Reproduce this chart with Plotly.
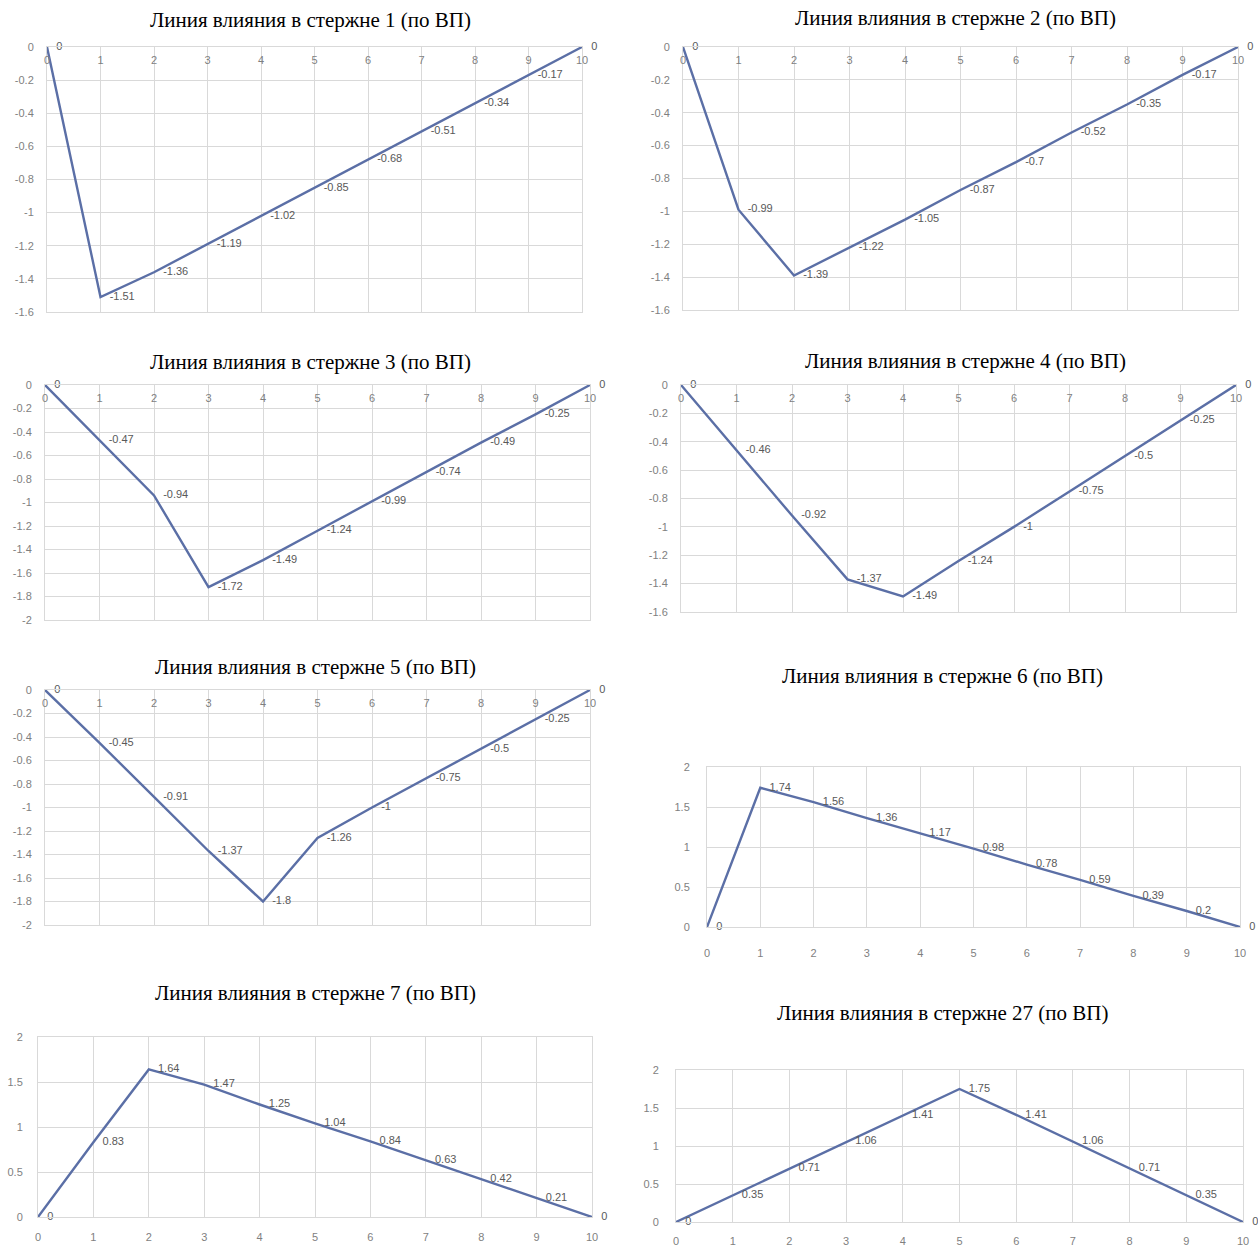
import plotly.graph_objects as go

W, H = 1258, 1247

x_nodes = [0, 1, 2, 3, 4, 5, 6, 7, 8, 9, 10]
x_ticks = [0, 1, 2, 3, 4, 5, 6, 7, 8, 9, 10]

titles = [
    "Линия влияния в стержне 1 (по ВП)",
    "Линия влияния в стержне 2 (по ВП)",
    "Линия влияния в стержне 3 (по ВП)",
    "Линия влияния в стержне 4 (по ВП)",
    "Линия влияния в стержне 5 (по ВП)",
    "Линия влияния в стержне 6 (по ВП)",
    "Линия влияния в стержне 7 (по ВП)",
    "Линия влияния в стержне 27 (по ВП)",
]

rod1 = [0, -1.51, -1.36, -1.19, -1.02, -0.85, -0.68, -0.51, -0.34, -0.17, 0]
rod2 = [0, -0.99, -1.39, -1.22, -1.05, -0.87, -0.7, -0.52, -0.35, -0.17, 0]
rod3 = [0, -0.47, -0.94, -1.72, -1.49, -1.24, -0.99, -0.74, -0.49, -0.25, 0]
rod4 = [0, -0.46, -0.92, -1.37, -1.49, -1.24, -1, -0.75, -0.5, -0.25, 0]
rod5 = [0, -0.45, -0.91, -1.37, -1.8, -1.26, -1, -0.75, -0.5, -0.25, 0]
rod6 = [0, 1.74, 1.56, 1.36, 1.17, 0.98, 0.78, 0.59, 0.39, 0.2, 0]
rod7 = [0, 0.83, 1.64, 1.47, 1.25, 1.04, 0.84, 0.63, 0.42, 0.21, 0]
rod27 = [0, 0.35, 0.71, 1.06, 1.41, 1.75, 1.41, 1.06, 0.71, 0.35, 0]

series = [rod1, rod2, rod3, rod4, rod5, rod6, rod7, rod27]

y_ticks_16 = [0, -0.2, -0.4, -0.6, -0.8, -1, -1.2, -1.4, -1.6]
y_ticks_20 = [0, -0.2, -0.4, -0.6, -0.8, -1, -1.2, -1.4, -1.6, -1.8, -2]
y_ticks_pos = [0, 0.5, 1, 1.5, 2]
y_tick_sets = [y_ticks_16, y_ticks_16, y_ticks_20, y_ticks_16, y_ticks_20,
               y_ticks_pos, y_ticks_pos, y_ticks_pos]

# plot-area boxes in pixels: x0, x1, ytop, ybottom
boxes = [
    (47, 582, 47, 312),
    (683, 1238, 47, 310),
    (45, 590, 385, 620),
    (681, 1236, 385, 612),
    (45, 590, 690, 925),
    (707, 1240, 767, 927),
    (38, 592, 1037, 1217),
    (676, 1243, 1070, 1222),
]
title_pos = [(310, 20), (955, 18), (310, 362), (966, 361),
             (316, 667), (942, 676), (316, 993), (942, 1013)]
x_label_gap = [0, 0, 0, 0, 0, 16, 10, 9]
y_label_gap = [10, 10, 10, 10, 10, 14, 12, 14]

LINE = "#5b6fa6"
GRID = "#d9d9d9"
TICK = "#7f7f7f"
LBL = "#595959"
FONT = "Liberation Sans"
PAD = "\u00a0\u00a0\u00a0"


def fmt(v):
    return f"{v:g}"


fig = go.Figure()
annotations = []

for i, ys in enumerate(series):
    k = "" if i == 0 else str(i + 1)
    fig.add_trace(go.Scatter(
        x=x_nodes, y=ys, mode="lines+text",
        text=[PAD + fmt(v) for v in ys], textposition="middle right",
        textfont=dict(family=FONT, size=11, color=LBL),
        line=dict(color=LINE, width=2.4),
        cliponaxis=False, showlegend=False, hoverinfo="x+y",
        xaxis="x" + k, yaxis="y" + k,
    ))
    x0, x1, yt, yb = boxes[i]
    yvals = y_tick_sets[i]
    negative = min(yvals) < 0
    yr = [min(yvals), max(yvals)]
    xa = dict(
        domain=[x0 / W, x1 / W], range=[0, 10], anchor="y" + k,
        tickvals=x_ticks, ticktext=[str(t) for t in x_ticks],
        showgrid=True, gridcolor=GRID, gridwidth=1,
        showline=True, linecolor=GRID, mirror=True, zeroline=False,
        tickfont=dict(family=FONT, size=11, color=TICK),
        automargin=False, fixedrange=True,
        side="bottom", ticks="outside", ticklen=max(x_label_gap[i], 1),
        tickcolor="rgba(0,0,0,0)",
    )
    if negative:
        xa.update(showticklabels=False)
        # labels hanging just under the zero line, Excel-style
        n = 8 + i + 1
        fig.layout["xaxis" + str(n)] = dict(
            overlaying="x" + k, anchor="free", position=1 - yt / H,
            side="bottom", range=[0, 10],
            tickvals=x_ticks, ticktext=[str(t) for t in x_ticks],
            showgrid=False, showline=False, zeroline=False,
            ticks="outside", ticklen=3, tickcolor="rgba(0,0,0,0)",
            tickfont=dict(family=FONT, size=11, color=TICK),
            automargin=False, fixedrange=True,
        )
        fig.add_trace(go.Scatter(
            x=[], y=[], xaxis="x" + str(n), yaxis="y" + k,
            showlegend=False, hoverinfo="skip",
        ))
    ya = dict(
        domain=[1 - yb / H, 1 - yt / H], range=yr,
        anchor="x" + k,
        tickvals=yvals, ticktext=[fmt(v) for v in yvals],
        showgrid=True, gridcolor=GRID, gridwidth=1,
        showline=True, linecolor=GRID, mirror=True, zeroline=False,
        tickfont=dict(family=FONT, size=11, color=TICK),
        ticks="outside", ticklen=y_label_gap[i], tickcolor="rgba(0,0,0,0)",
        automargin=False, fixedrange=True,
    )
    fig.layout["xaxis" + k] = xa
    fig.layout["yaxis" + k] = ya
    tx, ty = title_pos[i]
    annotations.append(dict(
        text=titles[i], x=tx / W, y=1 - ty / H, xref="paper", yref="paper",
        xanchor="center", yanchor="middle", showarrow=False,
        font=dict(family="Liberation Serif", size=21, color="#000000"),
    ))

fig.update_layout(
    width=W, height=H, margin=dict(l=0, r=0, t=0, b=0),
    paper_bgcolor="white", plot_bgcolor="white",
    annotations=annotations, showlegend=False,
)

fig.write_html("out.html", config={"displayModeBar": False},
               post_script="document.body.style.margin='0px';")
